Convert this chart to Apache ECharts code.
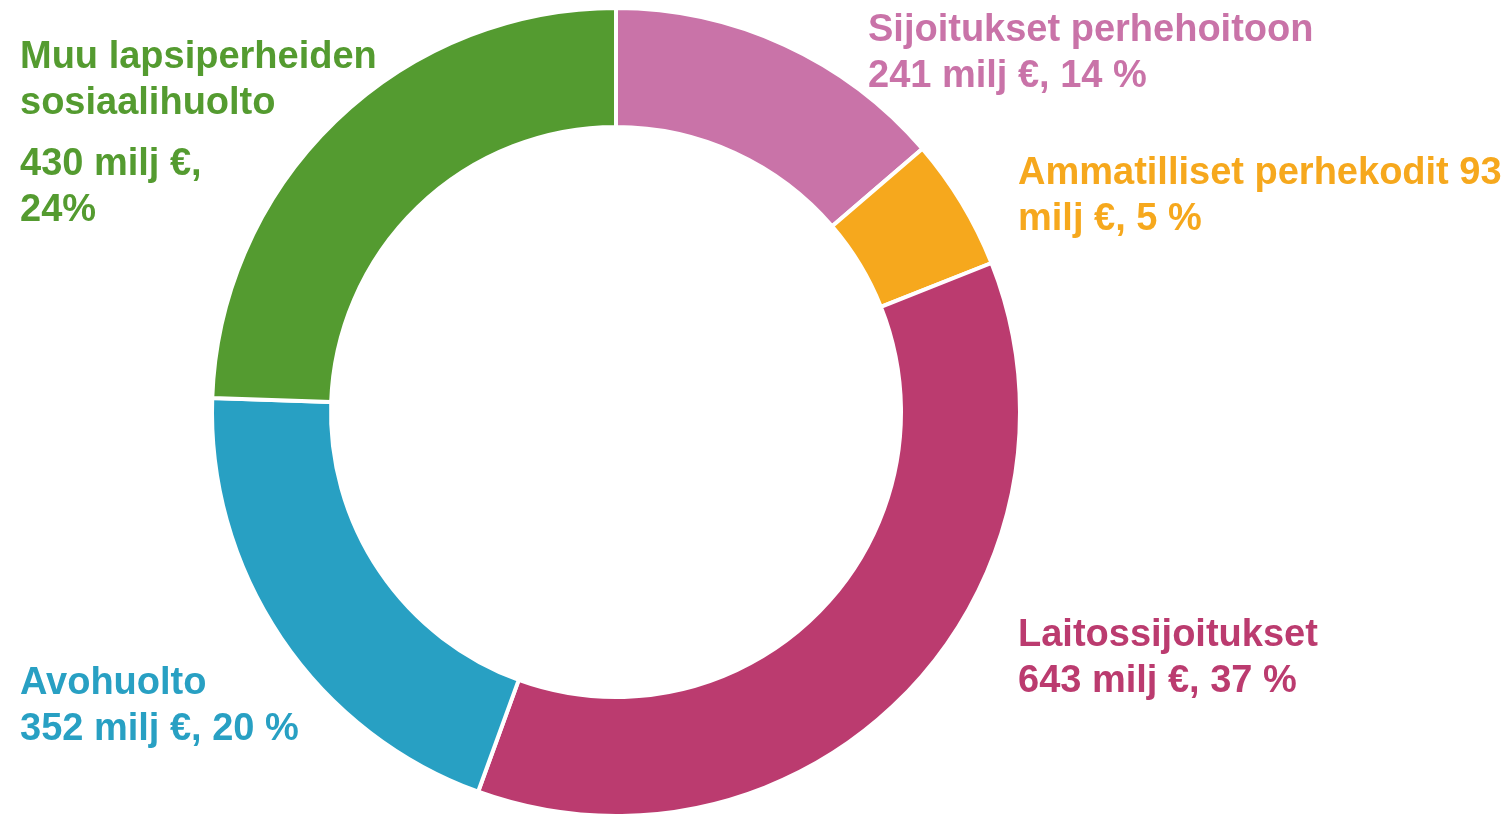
<!DOCTYPE html>
<html>
<head>
<meta charset="utf-8">
<script src="https://cdn.jsdelivr.net/npm/echarts@6/dist/echarts.min.js"></script>
<style>
  html, body { margin: 0; padding: 0; background: #fff; }
  #chart { width: 1512px; height: 816px; }
</style>
</head>
<body>
<div id="chart"></div>
<script>
// lastensuojelun kustannukset, milj €
const categories = [
  'Sijoitukset perhehoitoon',
  'Ammatilliset perhekodit',
  'Laitossijoitukset',
  'Avohuolto',
  'Muu lapsiperheiden sosiaalihuolto'
];
const values = [241, 93, 643, 352, 430];
const labelTexts = [
  'Sijoitukset perhehoitoon\n241 milj €, 14 %',
  'Ammatilliset perhekodit 93\nmilj €, 5 %',
  'Laitossijoitukset\n643 milj €, 37 %',
  'Avohuolto\n352 milj €, 20 %',
  'Muu lapsiperheiden\nsosiaalihuolto\n{s| }\n430 milj €,\n24%'
];
const colors = ['#C973A8', '#F6A81D', '#BB3B6F', '#28A0C3', '#549B30'];

// tekstien paikat (vasen yläkulma)
const labelPos = [[868, 8], [1018, 151], [1018, 613], [20, 661], [20, 35]];

const chart = echarts.init(document.getElementById('chart'));

const option = {
  animation: false,
  series: [
    {
      type: 'pie',
      center: [616, 412],
      radius: [285, 404],
      startAngle: 90,
      clockwise: true,
      itemStyle: {
        borderColor: '#fff',
        borderWidth: 4
      },
      label: {
        show: true,
        position: 'outside',
        overflow: 'none',
        fontFamily: 'Liberation Sans',
        fontWeight: 'bold',
        fontSize: 38,
        lineHeight: 46,
        formatter: (p) => labelTexts[p.dataIndex],
        rich: {
          s: { fontSize: 1, lineHeight: 15 }
        }
      },
      labelLine: { show: false },
      labelLayout: (params) => {
        const p = labelPos[params.dataIndex];
        return { x: p[0], y: p[1], align: 'left', verticalAlign: 'top' };
      },
      emphasis: { disabled: true },
      data: categories.map((name, i) => ({
        name: name,
        value: values[i],
        itemStyle: { color: colors[i] },
        label: { color: colors[i] }
      }))
    }
  ]
};

chart.setOption(option);
</script>
</body>
</html>
